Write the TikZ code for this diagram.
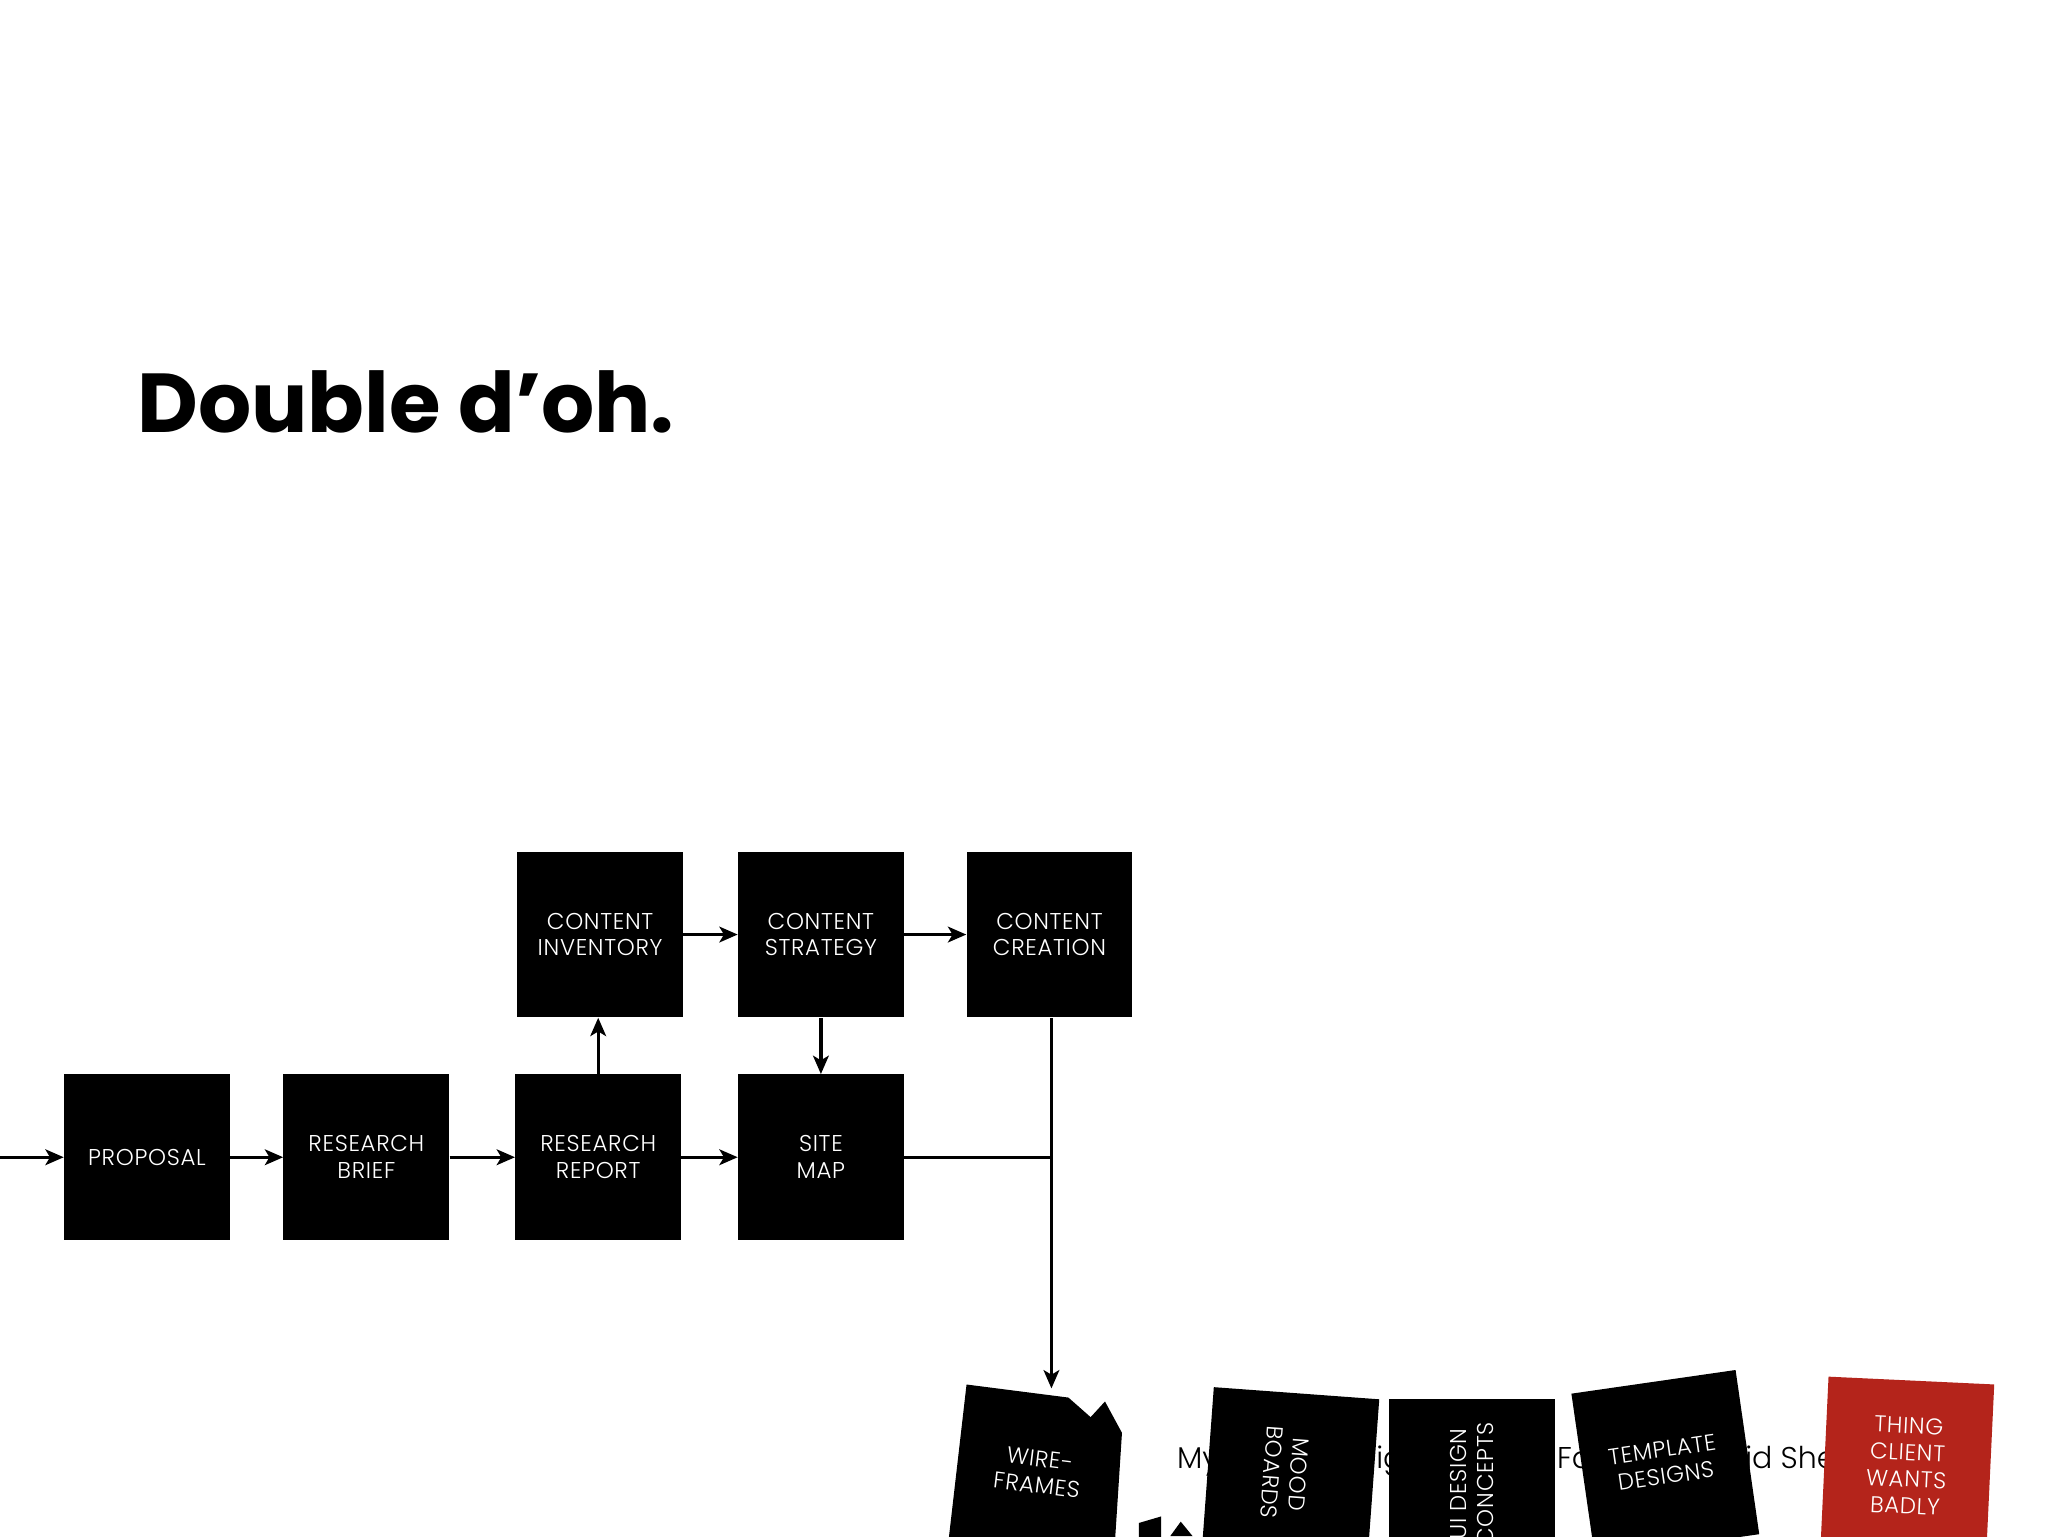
\documentclass[tikz,border=0pt]{standalone}
\usepackage{fontspec}
\usetikzlibrary{arrows.meta}
\newfontfamily\titlefont{Poppins}[UprightFont=* Bold]
\newfontfamily\lightfont{Poppins Light}[LetterSpace=3]
\newfontfamily\bglightfont{Poppins Light}
\definecolor{clientred}{RGB}{180,36,27}
\begin{document}
\begin{tikzpicture}[x=1pt,y=-1pt,
  blk/.style={fill=black, text=white, minimum width=127pt, minimum height=127pt, inner sep=0pt, align=center, font=\lightfont\fontsize{17.5}{20.5}\selectfont},
  lbl/.style={text=white, inner sep=0pt, align=center, font=\lightfont\fontsize{17.5}{20.5}\selectfont},
  arr/.style={line width=2.5pt, -{Stealth[length=14pt,width=12pt,inset=3.5pt]}},
  ln/.style={line width=2.5pt},
  bgtext/.style={inner sep=0pt, anchor=base west, font=\bglightfont\fontsize{23}{27}\selectfont}]
\clip (0,0) rectangle (1568,1176);
\fill[white] (0,0) rectangle (1568,1176);
% title
\node[anchor=base west, inner sep=0pt, font=\titlefont\fontsize{64}{70}\selectfont] (title) at (105,331) {Double d’oh.};
% upper boxes
\node[blk] (proposal) at (112.5,886) {PROPOSAL};
\node[blk] (brief) at (280.5,886) {RESEARCH\\BRIEF};
\node[blk] (report) at (458,886) {RESEARCH\\REPORT};
\node[blk] (sitemap) at (628.5,886) {SITE\\MAP};
\node[blk] (inventory) at (459.5,715.5) {CONTENT\\INVENTORY};
\node[blk] (strategy) at (628.5,715.5) {CONTENT\\STRATEGY};
\node[blk] (creation) at (803.5,715.5) {CONTENT\\CREATION};
% connectors
\coordinate (start) at (0,886);
\coordinate (junction) at (805,886);
\coordinate (wftop) at (805,1063);
\draw[arr] (start) -- (proposal.west);
\draw[arr] (proposal) -- (brief);
\draw[arr] (brief) -- (report);
\draw[arr] (report) -- (sitemap);
\draw[arr] (report.north) -- (report.north |- inventory.south);
\draw[arr] (inventory) -- (strategy);
\draw[arr] (strategy) -- (creation);
\draw[arr] (strategy.south) -- (sitemap.north);
\draw[ln] (sitemap.east) -- (junction);
\draw[ln] (creation.south -| junction) -- (junction);
\draw[arr] (junction) -- (wftop);
% background text fragments
\node[bgtext] (t1) at (901,1124) {My};
\node[bgtext] (t2) at (1053.5,1124) {ig};
\node[bgtext] (t3) at (1192,1124) {Fa};
\node[bgtext] (t4) at (1336,1124) {id She};
% wireframes (torn)
\fill[black] (740,1060) -- (818,1070) -- (835,1085) -- (846,1073) -- (859,1097) -- (853,1190) -- (725,1190) -- cycle;
\node[lbl, rotate=-7] (wftext) at (795,1127) {WIRE-\\FRAMES};
% fragments
\fill[black] (872,1166) -- (889,1161) -- (889,1180) -- (872,1180) -- cycle;
\fill[black] (896,1176) -- (904,1165) -- (913,1176) -- cycle;
% mood boards
\node[blk, rotate=-4.2] (mood) at (988,1130) {};
\node[lbl, rotate=-94.2] (moodtext) at (984,1128) {MOOD\\BOARDS};
% UI design
\node[blk] (ui) at (1127,1134.5) {};
\node[lbl, rotate=90] (uitext) at (1127,1136) {UI DESIGN\\CONCEPTS};
% template
\node[blk, rotate=8.2] (template) at (1275,1120.8) {};
\node[lbl, rotate=8.2] (templatetext) at (1274,1120) {TEMPLATE\\DESIGNS};
% client
\node[blk, fill=clientred, rotate=-2.7] (client) at (1460.4,1120.4) {};
\node[lbl, rotate=-2.7] (clienttext) at (1460,1122) {THING\\CLIENT\\WANTS\\BADLY};
\end{tikzpicture}
\end{document}
